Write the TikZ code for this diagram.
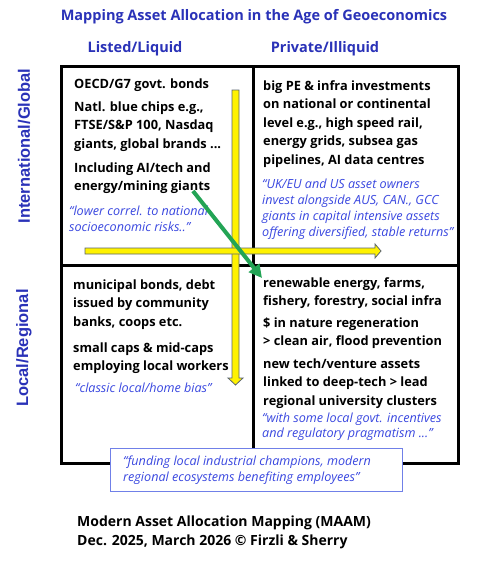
\documentclass[tikz,border=0pt]{standalone}
\usepackage{fontspec}
\setmainfont{Open Sans}
\newfontfamily\arialf{Liberation Sans}
\usetikzlibrary{arrows.meta}
\definecolor{titleblue}{HTML}{2A32B8}
\definecolor{quoteblue}{HTML}{3A48E0}
\definecolor{arrowgreen}{HTML}{23A455}
\definecolor{yborder}{HTML}{5A6470}
\definecolor{boxblue}{HTML}{7080E8}
\begin{document}
\begin{tikzpicture}[x=1pt,y=-1pt,
  body/.style={anchor=base west, inner sep=0pt, align=left, font=\bfseries\fontsize{12.8}{18.5}\selectfont, text=black},
  quote/.style={anchor=base west, inner sep=0pt, align=left, font=\itshape\fontsize{12.6}{16.3}\selectfont, text=quoteblue},
  hdr/.style={inner sep=0pt, font=\bfseries\fontsize{14.5}{16}\selectfont, text=titleblue},
  side/.style={inner sep=0pt, rotate=90, font=\arialf\bfseries\fontsize{16.5}{18}\selectfont, text=titleblue},
  gridline/.style={line width=3pt, black},
  yarrow/.style={fill=yellow, draw=yborder, line width=0.8pt},
  foot/.style={anchor=base west, inner sep=0pt, align=left, font=\bfseries\fontsize{14}{19}\selectfont, text=black},
]
\useasboundingbox[fill=white] (0,0) rectangle (480,562);

% headings
\node[hdr] (title) at (254,17) {Mapping Asset Allocation in the Age of Geoeconomics};
\node[hdr] (listed) at (135,49) {Listed/Liquid};
\node[hdr] (private) at (325,49) {Private/Illiquid};
\node[side] (intl) at (24,146) {International/Global};
\node[side] (local) at (24,348) {Local/Regional};

% grid
\draw[gridline] (61,66) rectangle (458,463);
\draw[gridline] (253,66) -- (253,463);
\draw[gridline] (61,265) -- (458,265);

% top-left (anchor = baseline of last line)
\node[body] (tl1) at (74,88) {OECD/G7 govt. bonds};
\node[body] (tl2) at (74,148) {Natl. blue chips e.g.,\\FTSE/S\&P 100, Nasdaq\\giants, global brands ...};
\node[body] (tl3) at (74,190.5) {Including AI/tech and\\energy/mining giants};
\node[quote] (tlq) at (69,231.3) {“lower correl. to national\\socioeconomic risks..”};

% top-right
\node[body] (tr1) at (263,164) {big PE \& infra investments\\on national or continental\\level e.g., high speed rail,\\energy grids, subsea gas\\pipelines, AI data centres};
\node[quote] (trq) at (262,236.9) {“UK/EU and US asset owners\\invest alongside AUS, CAN., GCC\\giants in capital intensive assets\\offering diversified, stable returns”};

% bottom-left
\node[body] (bl1) at (73,326) {municipal bonds, debt\\issued by community\\banks, coops etc.};
\node[body] (bl2) at (73,370.5) {small caps \& mid-caps\\employing local workers};
\node[quote] (blq) at (75,392) {“classic local/home bias”};

% bottom-right
\node[body] (br1) at (263,305.5) {renewable energy, farms,\\fishery, forestry, social infra};
\node[body] (br2) at (263,345.5) {\$ in nature regeneration\\> clean air, flood prevention};
\node[body] (br3) at (263,405) {new tech/venture assets\\linked to deep-tech > lead\\regional university clusters};
\node[quote, font=\itshape\fontsize{12.6}{15.5}\selectfont] (brq) at (262,437.5) {“with some local govt. incentives\\and regulatory pragmatism ...”};

% yellow arrows
\draw[yarrow] (232,90) -- (239,90) -- (239,378) -- (243,378) -- (235.5,385) -- (228,378) -- (232,378) -- cycle;
\draw[yarrow] (85,248) -- (375,248) -- (375,244) -- (381,251) -- (375,258) -- (375,254) -- (85,254) -- cycle;

% green arrow
\coordinate (gs) at (193,191);
\coordinate (ge) at (262,278);
\draw[arrowgreen, line width=4pt, -{Triangle[length=13pt,width=13pt]}] (gs) -- (ge);

% bottom box
\draw[boxblue, fill=white, line width=1pt] (110,448) rectangle (402,491);
\node[quote, font=\itshape\fontsize{12.6}{16}\selectfont] (boxq) at (123,481) {“funding local industrial champions, modern\\regional ecosystems benefiting employees”};

% footer
\node[foot] (footer) at (77,545) {Modern Asset Allocation Mapping (MAAM)\\Dec. 2025, March 2026 © Firzli \& Sherry};
\end{tikzpicture}
\end{document}
